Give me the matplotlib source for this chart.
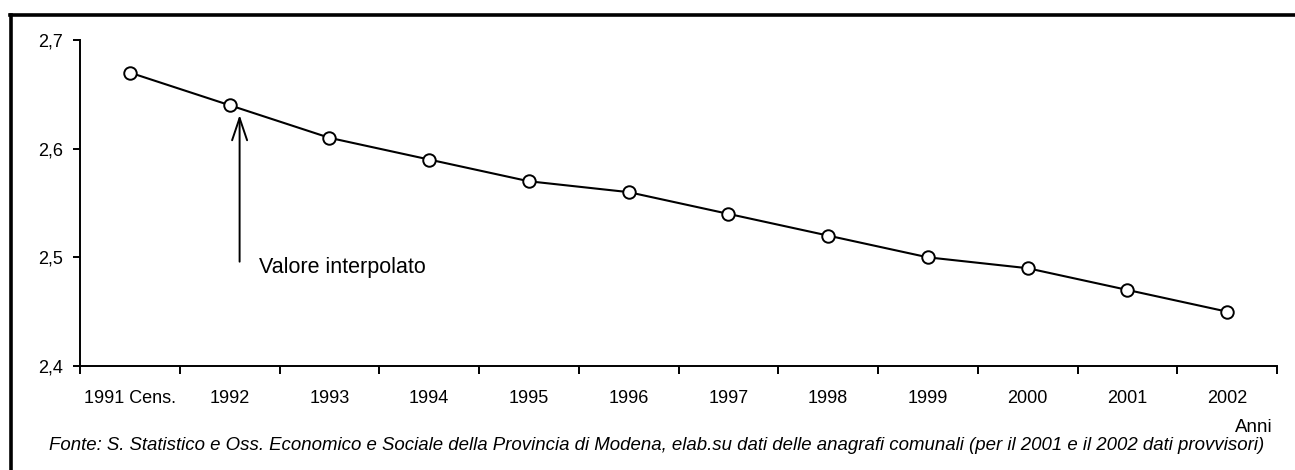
import numpy as np
import matplotlib
matplotlib.use('Agg')
import matplotlib.pyplot as plt
from matplotlib.lines import Line2D

plt.rcParams['font.family'] = ['Liberation Sans', 'DejaVu Sans']

# data
anni = ['1991 Cens.', '1992', '1993', '1994', '1995', '1996',
        '1997', '1998', '1999', '2000', '2001', '2002']
valori = [2.67, 2.64, 2.61, 2.59, 2.57, 2.56, 2.54, 2.52, 2.50, 2.49, 2.47, 2.45]
y_ticks = [2.4, 2.5, 2.6, 2.7]

fig = plt.figure(figsize=(12.95, 4.70), dpi=100)
ax = fig.add_axes([80/1295, 1-366/470, (1277-80)/1295, (366-40)/470])

x = np.arange(len(anni))
ax.plot(x, valori, '-o', color='black', lw=1.5, markersize=9,
        markerfacecolor='white', markeredgecolor='black', markeredgewidth=1.4)

ax.set_xlim(-0.5, len(anni) - 0.5)
ax.set_ylim(2.4, 2.7)
ax.set_yticks(y_ticks)
ax.set_yticklabels([f'{v:.1f}'.replace('.', ',') for v in y_ticks], fontsize=13)
ax.set_xticks(x)
ax.set_xticklabels(anni, fontsize=13)
ax.set_xticks(np.arange(len(anni) + 1) - 0.5, minor=True)
ax.tick_params(axis='x', which='major', length=0, pad=17)
ax.tick_params(axis='x', which='minor', length=6, width=1.4, direction='out')
ax.tick_params(axis='y', length=5, width=1.4, pad=7)
for s in ['top', 'right']:
    ax.spines[s].set_visible(False)
for s in ['left', 'bottom']:
    ax.spines[s].set_linewidth(1.4)

# annotation
ax.annotate('', xy=(1.1, 2.631), xytext=(1.1, 2.496),
            arrowprops=dict(arrowstyle='->, head_length=0.8, head_width=0.27',
                            color='black', lw=1.4, mutation_scale=20,
                            shrinkA=0, shrinkB=0))
fig.text(259/1295, 1-268/470, 'Valore interpolato', fontsize=15.5, va='center', ha='left')

fig.text(1273/1295, 1-428/470, 'Anni', fontsize=13.5, ha='right', va='center')
fig.text(657/1295, 1-446/470,
         'Fonte: S. Statistico e Oss. Economico e Sociale della Provincia di Modena, '
         'elab.su dati delle anagrafi comunali (per il 2001 e il 2002 dati provvisori)',
         fontsize=13.4, style='italic', ha='center', va='center')

# frame
fig.add_artist(Line2D([11/1295, 11/1295], [0, 1-15/470], transform=fig.transFigure,
                      color='black', lw=2.6))
fig.add_artist(Line2D([10/1295, 1], [1-15/470, 1-15/470], transform=fig.transFigure,
                      color='black', lw=2.6))

fig.savefig('out.png', dpi=100)
